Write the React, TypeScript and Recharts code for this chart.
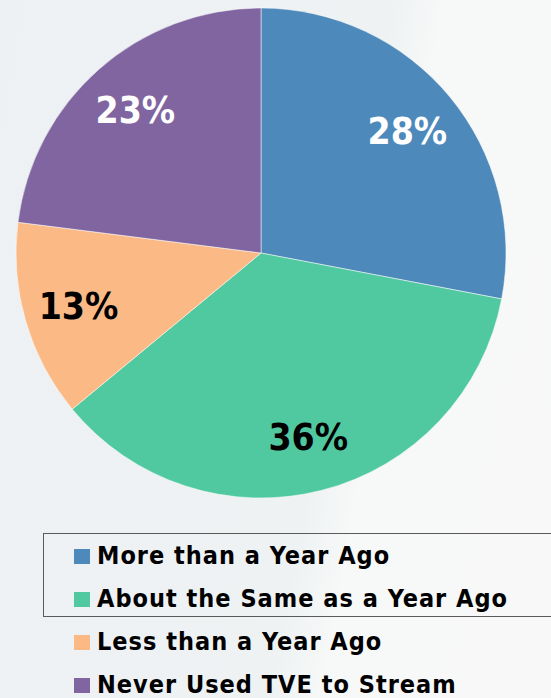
import { PieChart, Pie, Cell, Legend } from 'recharts';

const categories = ['More than a Year Ago', 'About the Same as a Year Ago', 'Less than a Year Ago', 'Never Used TVE to Stream'];
const shares = [28, 36, 13, 23];
const colors = ['#4e89bb', '#51c9a0', '#fab985', '#8165a0'];
const labelColors = ['#ffffff', '#000000', '#000000', '#ffffff'];

const data = categories.map((name, i) => ({ name, value: shares[i] }));

const FONT = '"DejaVu Sans Condensed", "DejaVu Sans", Verdana, sans-serif';
const RAD = Math.PI / 180;

function renderLabel(props: any) {
  const { cx, cy, midAngle, index, value } = props;
  const r = 190;
  const x = cx + r * Math.cos(-midAngle * RAD);
  const y = cy + r * Math.sin(-midAngle * RAD);
  return (
    <text
      x={x}
      y={y}
      fill={labelColors[index]}
      textAnchor="middle"
      dominantBaseline="central"
      fontFamily={FONT}
      fontWeight="bold"
      fontSize={37}
      style={{ fontStretch: 'condensed' }}
    >
      {`${value}%`}
    </text>
  );
}

function renderLegend(props: any) {
  const payload = [...(props.payload || [])].sort(
    (a: any, b: any) => categories.indexOf(a.value) - categories.indexOf(b.value)
  );
  return (
    <div style={{ position: 'relative', width: 551, height: 165 }}>
      {/* the original box only wraps the first two entries and runs off the right edge */}
      <div
        style={{
          position: 'absolute',
          left: 43,
          top: 0,
          width: 520,
          height: 84,
          border: '1.5px solid #5a5a5a',
          boxSizing: 'border-box',
        }}
      />
      {payload.map((entry: any, i: number) => (
        <div
          key={entry.value}
          style={{
            position: 'absolute',
            left: 74,
            top: 23 + i * 43 - 12,
            height: 24,
            lineHeight: '24px',
            display: 'flex',
            alignItems: 'center',
            whiteSpace: 'nowrap',
          }}
        >
          <span style={{ display: 'inline-block', width: 16, height: 15, background: entry.color, marginRight: 7 }} />
          <span
            style={{
              fontFamily: FONT,
              fontWeight: 'bold',
              fontSize: 25,
              lineHeight: '24px',
              letterSpacing: 1,
              fontStretch: 'condensed',
              color: '#000',
            }}
          >
            {entry.value}
          </span>
        </div>
      ))}
    </div>
  );
}

export default function App() {
  return (
    <div
      style={{
        position: 'absolute',
        left: 0,
        top: 0,
        width: 551,
        height: 698,
        overflow: 'hidden',
        background: 'linear-gradient(100deg, #edf1f4 0%, #eef2f3 58%, #f7f8f8 66%, #f8f8f8 100%)',
      }}
    >
      <PieChart width={551} height={698} margin={{ top: 0, right: 0, bottom: 0, left: 0 }}>
        <Pie
          data={data}
          dataKey="value"
          nameKey="name"
          cx={261}
          cy={253}
          outerRadius={245}
          startAngle={90}
          endAngle={-270}
          stroke="rgba(255,255,255,0.5)"
          strokeWidth={1}
          label={renderLabel}
          labelLine={false}
          isAnimationActive={false}
        >
          {data.map((d, i) => (
            <Cell key={d.name} fill={colors[i]} />
          ))}
        </Pie>
        <Legend
          content={renderLegend}
          wrapperStyle={{ position: 'absolute', left: 0, top: 533, width: 551 }}
        />
      </PieChart>
    </div>
  );
}
